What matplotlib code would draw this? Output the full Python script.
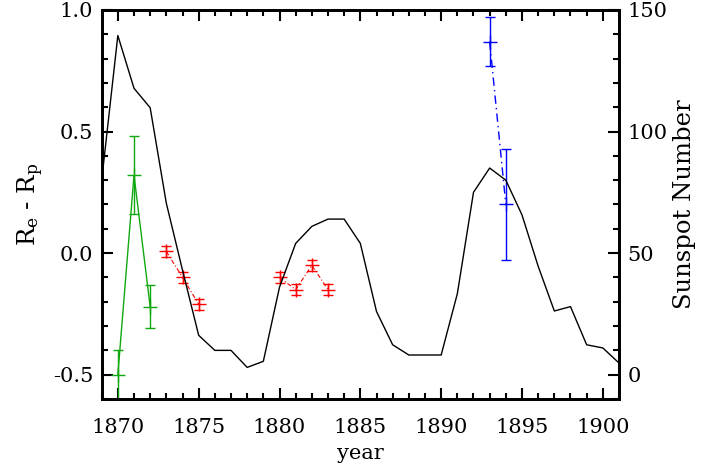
#!/usr/bin/env python3
"""Re - Rp measurements against the sunspot number, 1869-1901."""

import matplotlib

matplotlib.use("Agg")
import matplotlib.pyplot as plt
from matplotlib.ticker import MultipleLocator, FormatStrFormatter

# annual sunspot number
anos_ss = list(range(1869, 1902))
sunspot = [80, 139.5, 117.8, 109.8, 70.5, 43, 16.2, 10, 10, 3, 5.5,
           36, 54, 61, 64, 64, 54, 26, 12.3, 8.1, 8.1, 8.1, 33.3,
           75, 85, 80, 65.7, 44.6, 26.2, 28, 12.3, 11, 4.8]

# Re - Rp, three groups of measurements
anos_verde = [1870, 1871, 1872]
dif_verde = [-0.50, 0.32, -0.22]
err_verde = [0.10, 0.16, 0.09]

anos_verm_a = [1873, 1874, 1875]
dif_verm_a = [0.007, -0.10, -0.21]
err_verm_a = [0.024, 0.022, 0.022]

anos_verm_b = [1880, 1881, 1882, 1883]
dif_verm_b = [-0.10, -0.15, -0.05, -0.15]
err_verm_b = [0.023, 0.023, 0.023, 0.023]

anos_azul = [1893, 1894]
dif_azul = [0.87, 0.20]
err_azul = [0.10, 0.23]

plt.rcParams["font.family"] = "DejaVu Serif"
plt.rcParams["mathtext.fontset"] = "dejavuserif"
plt.rcParams["axes.unicode_minus"] = False

fig = plt.figure(figsize=(7.11, 4.67), dpi=100)
ax = fig.add_axes([0.143, 0.1456, 0.7276, 0.833])
ax2 = ax.twinx()

estilo = dict(marker="+", markersize=10, mew=1.0, capsize=3.5, elinewidth=1.0,
              capthick=1.0, clip_on=True)
ax.errorbar(anos_verde, dif_verde, yerr=err_verde, color="#10a810", ls="-", lw=1.0, **estilo)
ax.errorbar(anos_verm_a, dif_verm_a, yerr=err_verm_a, color="#ff0000", ls=(0, (4, 2, 1, 2)), lw=0.8, **estilo)
ax.errorbar(anos_verm_b, dif_verm_b, yerr=err_verm_b, color="#ff0000", ls=(0, (4, 2, 1, 2)), lw=0.8, **estilo)
ax.errorbar(anos_azul, dif_azul, yerr=err_azul, color="#0000ff", ls=(0, (6, 3, 1, 3)), lw=1.0, **estilo)

ax2.plot(anos_ss, sunspot, color="black", lw=1.0)

ax.set_xlim(1869, 1901)
ax.set_ylim(-0.6, 1.0)
ax2.set_ylim(-10, 150)

ax.xaxis.set_major_locator(MultipleLocator(5))
ax.xaxis.set_minor_locator(MultipleLocator(1))
ax.yaxis.set_major_locator(MultipleLocator(0.5))
ax.yaxis.set_minor_locator(MultipleLocator(0.1))
ax.yaxis.set_major_formatter(FormatStrFormatter("%.1f"))
ax2.yaxis.set_major_locator(MultipleLocator(50))
ax2.yaxis.set_minor_locator(MultipleLocator(10))

ax.tick_params(which="both", direction="in", top=True, right=False, width=1.5, labelsize=15)
ax.tick_params(which="major", length=8)
ax.tick_params(which="minor", length=4)
ax.tick_params(axis="x", pad=14)
ax.tick_params(axis="y", pad=6)
ax2.tick_params(which="both", direction="in", width=1.5, labelsize=15, pad=6)
ax2.tick_params(which="major", length=8)
ax2.tick_params(which="minor", length=4)

for a in (ax, ax2):
    for s in a.spines.values():
        s.set_linewidth(2)

ax.set_xlabel("year", fontsize=15, labelpad=5)
ax.set_ylabel(r"R$_\mathrm{e}$ - R$_\mathrm{p}$", fontsize=17.5, labelpad=5)
ax2.set_ylabel("Sunspot Number", fontsize=17.5, labelpad=4)

fig.savefig("out.png", dpi=100)
